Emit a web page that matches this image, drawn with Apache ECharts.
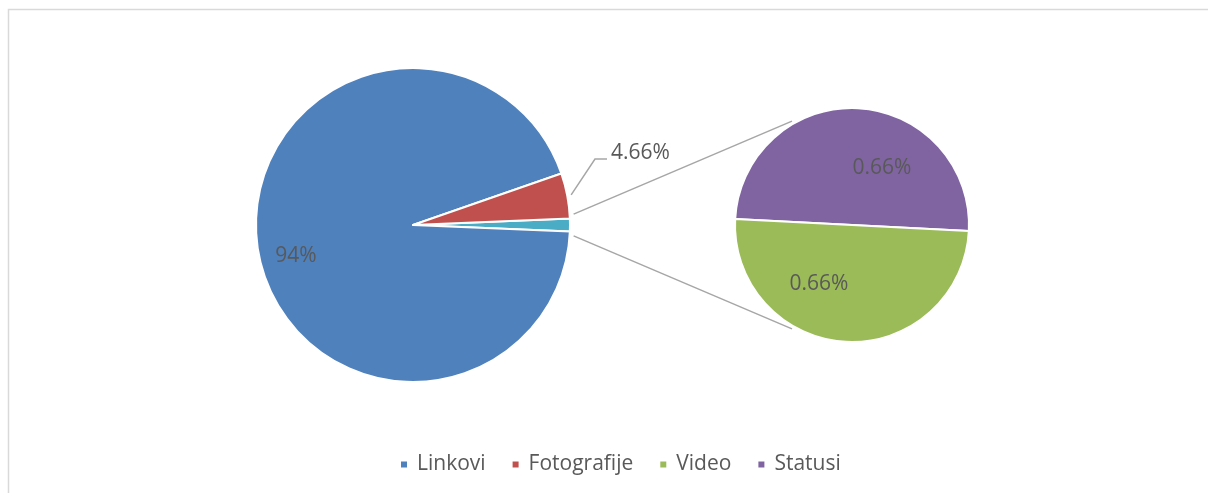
<!DOCTYPE html>
<html>
<head>
<meta charset="utf-8">
<script src="https://cdn.jsdelivr.net/npm/echarts@6/dist/echarts.min.js"></script>
<style>
html,body{margin:0;padding:0;background:#fff;}
#chart{width:1208px;height:493px;}
</style>
</head>
<body>
<div id="chart"></div>
<script>
// ---- data ----
const categories = ['Linkovi', 'Fotografije', 'Video', 'Statusi'];
const values = [94, 4.66, 0.66, 0.66];
const colors = ['#4f81bd', '#c0504d', '#9bbb59', '#8064a2'];
const otherColor = '#4bacc6';
const otherName = 'Ostalo';

// ---- layout ----
const mainC = [413, 225], mainR = 157;
const subC = [852, 225], subR = 117;
const font = '"Open Sans", "Liberation Sans", sans-serif';
const txt = '#595959';

const mainTotal = values[0] + values[1] + values[2] + values[3];
const otherVal = values[2] + values[3];
const otherDeg = otherVal / mainTotal * 360;
const mainStart = otherDeg / 2;
const fotoMid = mainStart + values[1] / mainTotal * 360 / 2;

// label placement (offsets relative to pie centres: dx, dy in px)
const mainLabelPos = { 1: [-117, 31], 2: [198, -72] };
const subLabelPos = { 0: [30, -57], 1: [-33, 59] };

const rad = d => d * Math.PI / 180;
const pt = (c, r, a) => [c[0] + r * Math.cos(rad(a)), c[1] - r * Math.sin(rad(a))];

// leader for Fotografije label
const leadStart = pt(mainC, mainR + 4, fotoMid);
const labelAnchor = [mainC[0] + mainLabelPos[2][0], mainC[1] + mainLabelPos[2][1]];
const leadPts = [leadStart, [labelAnchor[0] - 16, labelAnchor[1] + 6], [labelAnchor[0] - 4, labelAnchor[1] + 6]];

// connectors from other slice to second pie
const connTopA = pt(mainC, mainR + 4, mainStart + 1.5);
const connBotA = pt(mainC, mainR + 4, -mainStart - 1.5);
const connTopB = pt(subC, subR + 3, 120);
const connBotB = pt(subC, subR + 3, -120);

const chart = echarts.init(document.getElementById('chart'), null, { renderer: 'canvas' });

const mainData = [
  { name: otherName, value: otherVal, itemStyle: { color: otherColor }, label: { show: false } },
  { name: categories[0], value: values[0], itemStyle: { color: colors[0] } },
  { name: categories[1], value: values[1], itemStyle: { color: colors[1] } }
];
const subData = [
  { name: categories[3], value: values[3], itemStyle: { color: colors[3] } },
  { name: categories[2], value: values[2], itemStyle: { color: colors[2] } }
];

const labelStyle = {
  show: true,
  position: 'inside',
  color: txt,
  fontFamily: font,
  fontSize: 21,
  formatter: p => p.value + '%'
};

chart.setOption({
  animation: false,
  backgroundColor: '#fff',
  legend: {
    data: categories,
    left: 399,
    top: 454,
    padding: 0,
    icon: 'rect',
    itemWidth: 8,
    itemHeight: 8,
    itemGap: 25,
    textStyle: { color: txt, fontFamily: font, fontSize: 21, padding: [0, 0, 0, 4] },
    selectedMode: false
  },
  graphic: [
    { type: 'rect', shape: { x: 8.5, y: 9.5, width: 1300, height: 600 }, style: { fill: 'none', stroke: '#d9d9d9', lineWidth: 1.5 }, silent: true, z: -1 },
    { type: 'polyline', shape: { points: [connTopA, connTopB] }, style: { stroke: '#a6a6a6', lineWidth: 1.5, fill: 'none' }, silent: true },
    { type: 'polyline', shape: { points: [connBotA, connBotB] }, style: { stroke: '#a6a6a6', lineWidth: 1.5, fill: 'none' }, silent: true },
    { type: 'polyline', shape: { points: leadPts }, style: { stroke: '#a6a6a6', lineWidth: 1.5, fill: 'none' }, silent: true }
  ],
  series: [
    {
      type: 'pie',
      center: mainC,
      radius: mainR,
      startAngle: mainStart,
      clockwise: true,
      avoidLabelOverlap: false,
      label: labelStyle,
      labelLine: { show: false },
      itemStyle: { borderColor: '#fff', borderWidth: 2 },
      emphasis: { disabled: true },
      labelLayout: p => {
        const o = mainLabelPos[p.dataIndex];
        if (!o) return {};
        if (p.dataIndex === 2) return { x: mainC[0] + o[0], y: mainC[1] + o[1], align: 'left', verticalAlign: 'middle' };
        return { x: mainC[0] + o[0], y: mainC[1] + o[1], align: 'center', verticalAlign: 'middle' };
      },
      data: mainData
    },
    {
      type: 'pie',
      center: subC,
      radius: subR,
      startAngle: 177.1,
      clockwise: true,
      avoidLabelOverlap: false,
      label: labelStyle,
      labelLine: { show: false },
      itemStyle: { borderColor: '#fff', borderWidth: 2 },
      emphasis: { disabled: true },
      labelLayout: p => {
        const o = subLabelPos[p.dataIndex];
        return { x: subC[0] + o[0], y: subC[1] + o[1], align: 'center', verticalAlign: 'middle' };
      },
      data: subData
    }
  ]
});
</script>
</body>
</html>
